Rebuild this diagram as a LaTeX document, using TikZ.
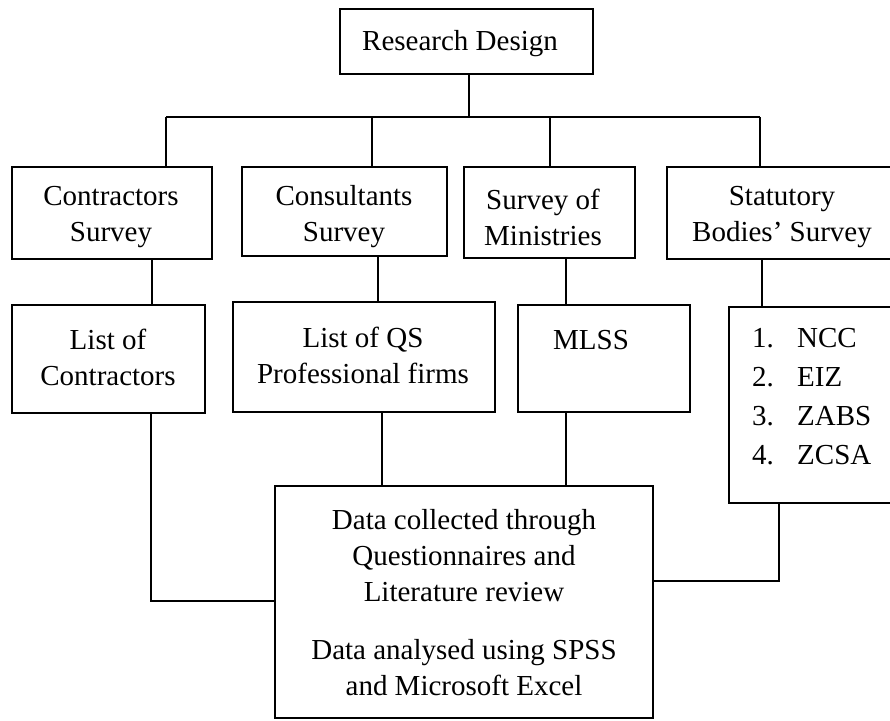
\documentclass[tikz,border=0pt]{standalone}
\usepackage{fontspec}
\setmainfont{Liberation Serif}
\begin{document}
\begin{tikzpicture}[x=1pt,y=-1pt,
  box/.style={draw, line width=1.8pt, rectangle, inner sep=0pt},
  txt/.style={align=center, font=\fontsize{29}{36}\selectfont, inner sep=0pt},
  conn/.style={line width=1.8pt}]
\useasboundingbox (0,0) rectangle (890,720);
\clip (0,0) rectangle (890,720);
% boxes
\node[box, minimum width=253, minimum height=65] (rd) at (466.5,41.5) {};
\node[box, minimum width=200, minimum height=92] (cs) at (112,213) {};
\node[box, minimum width=205, minimum height=89] (co) at (344.5,211.5) {};
\node[box, minimum width=171, minimum height=91] (sm) at (549.5,212.5) {};
\node[box, minimum width=243, minimum height=92] (sb) at (788.5,213) {};
\node[box, minimum width=193, minimum height=108] (lc) at (108.5,359) {};
\node[box, minimum width=262, minimum height=110] (lq) at (364,357) {};
\node[box, minimum width=172, minimum height=107] (ml) at (604,358.5) {};
\node[box, minimum width=176, minimum height=196] (sl) at (817,405) {};
\node[box, minimum width=378, minimum height=232] (db) at (464,602) {};
% texts
\node[txt] (trd) at (460,44) {Research Design};
\node[txt] (tcs) at (111,217) {Contractors\\Survey};
\node[txt] (tco) at (344,217) {Consultants\\Survey};
\node[txt] (tsm) at (543,217) {Survey of\\Ministries};
\node[txt] (tsb) at (782,217) {Statutory\\Bodies’ Survey};
\node[txt] (tlc) at (108,357) {List of\\Contractors};
\node[txt] (tlq) at (363,355) {List of QS\\Professional firms};
\node[txt] (tml) at (591,340) {MLSS};
\node[txt, anchor=base west] (n1) at (752,347) {1.};
\node[txt, anchor=base west] (n2) at (752,386) {2.};
\node[txt, anchor=base west] (n3) at (752,425) {3.};
\node[txt, anchor=base west] (n4) at (752,464) {4.};
\node[txt, anchor=base west] (s1) at (797,347) {NCC};
\node[txt, anchor=base west] (s2) at (797,386) {EIZ};
\node[txt, anchor=base west] (s3) at (797,425) {ZABS};
\node[txt, anchor=base west] (s4) at (797,464) {ZCSA};
\node[txt] (tdb1) at (464,556) {Data collected through\\Questionnaires and\\Literature review};
\node[txt] (tdb2) at (464,668) {Data analysed using SPSS\\and Microsoft Excel};
% connectors
\coordinate (hb) at (469,117);
\coordinate (d1) at (166,117);
\coordinate (d2) at (372,117);
\coordinate (d3) at (550,117);
\coordinate (d4) at (760,117);
\draw[conn] (rd.south -| hb) -- (hb);
\draw[conn] (d1) -- (d4);
\draw[conn] (d1) -- (d1 |- cs.north);
\draw[conn] (d2) -- (d2 |- co.north);
\draw[conn] (d3) -- (d3 |- sm.north);
\draw[conn] (d4) -- (d4 |- sb.north);
\coordinate (v1) at (152,0);
\coordinate (v2) at (378,0);
\coordinate (v3) at (566,0);
\coordinate (v4) at (762,0);
\draw[conn] (cs.south -| v1) -- (lc.north -| v1);
\draw[conn] (co.south -| v2) -- (lq.north -| v2);
\draw[conn] (sm.south -| v3) -- (ml.north -| v3);
\draw[conn] (sb.south -| v4) -- (sl.north -| v4);
\coordinate (e1) at (151,601);
\coordinate (e2) at (382,0);
\coordinate (e3) at (566,0);
\coordinate (e4) at (779,581);
\draw[conn] (lc.south -| e1) -- (e1) -- (e1 -| db.west);
\draw[conn] (lq.south -| e2) -- (db.north -| e2);
\draw[conn] (ml.south -| e3) -- (db.north -| e3);
\draw[conn] (sl.south -| e4) -- (e4) -- (e4 -| db.east);
\end{tikzpicture}
\end{document}
